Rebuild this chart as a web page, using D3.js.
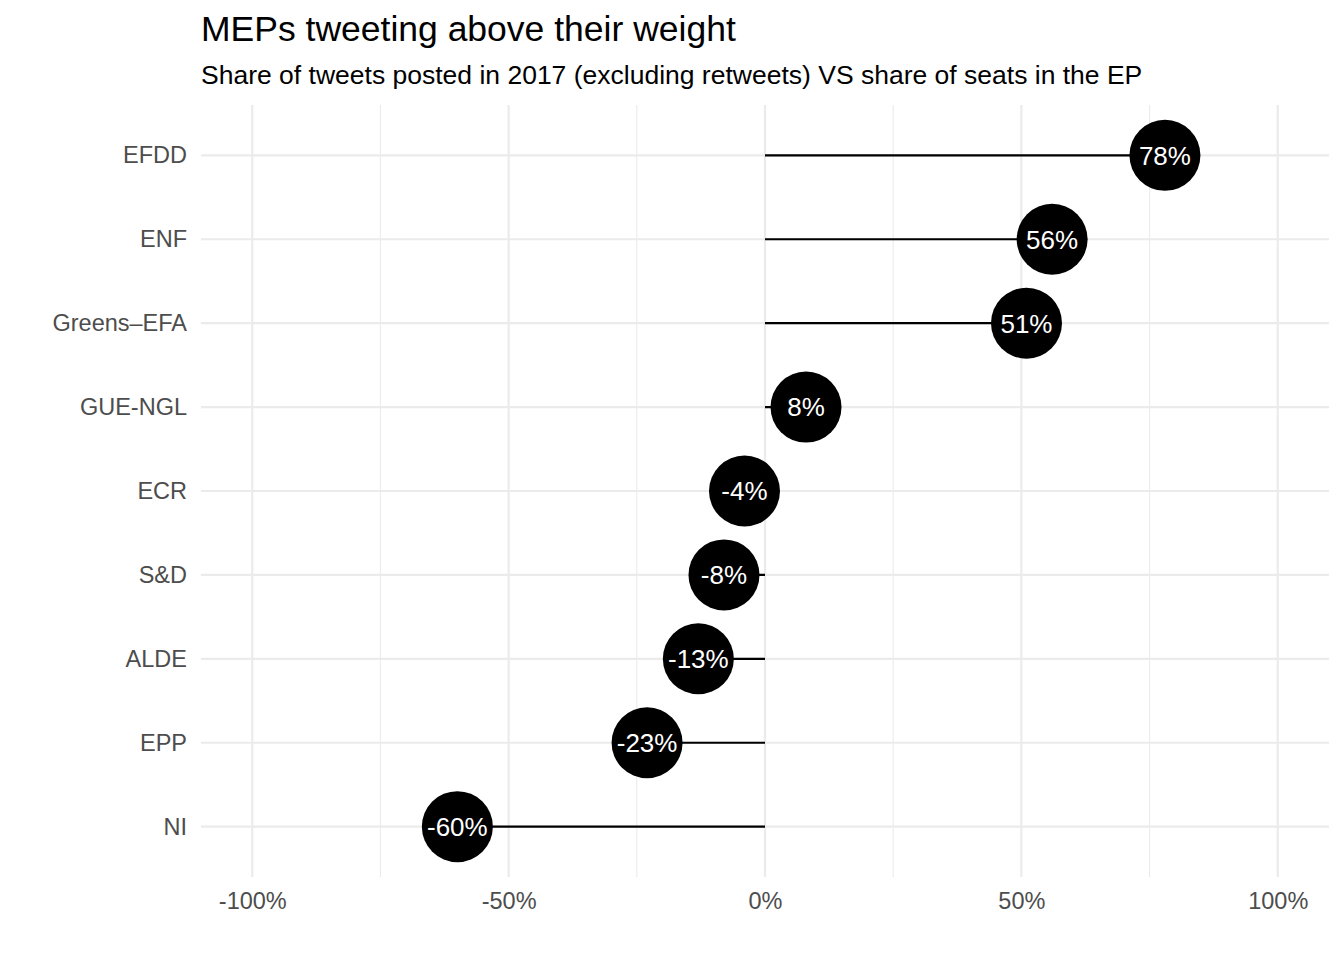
<!DOCTYPE html>
<html>
<head>
<meta charset="utf-8">
<script src="https://cdn.jsdelivr.net/npm/d3@7"></script>
<style>
body{margin:0;background:#fff;}
svg text{font-family:"Liberation Sans",Arial,sans-serif;}
</style>
</head>
<body>
<svg id="chart" width="1344" height="960"></svg>
<script>
const groups = ["EFDD","ENF","Greens–EFA","GUE-NGL","ECR","S&D","ALDE","EPP","NI"];
const values = [0.78,0.56,0.51,0.08,-0.04,-0.08,-0.13,-0.23,-0.60];
const majorTicks = [-1,-0.5,0,0.5,1];
const minorTicks = [-0.75,-0.25,0.25,0.75];
const titleText = "MEPs tweeting above their weight";
const subtitleText = "Share of tweets posted in 2017 (excluding retweets) VS share of seats in the EP";

const svg = d3.select("#chart");
const panel = {left:201, right:1329, top:105, bottom:877};

const x = d3.scaleLinear().domain([-1.1,1.1]).range([panel.left,panel.right]);
const y = d3.scalePoint().domain(groups).range([panel.top,panel.bottom]).padding(0.6);

const fmt = v => Math.round(v*100) + "%";

// minor grid
svg.append("g").selectAll("line").data(minorTicks).join("line")
  .attr("x1",d=>x(d)).attr("x2",d=>x(d)).attr("y1",panel.top).attr("y2",panel.bottom)
  .attr("stroke","#ebebeb").attr("stroke-width",1.1);
// major grid vertical
svg.append("g").selectAll("line").data(majorTicks).join("line")
  .attr("x1",d=>x(d)).attr("x2",d=>x(d)).attr("y1",panel.top).attr("y2",panel.bottom)
  .attr("stroke","#ebebeb").attr("stroke-width",2.2);
// major grid horizontal
svg.append("g").selectAll("line").data(groups).join("line")
  .attr("x1",panel.left).attr("x2",panel.right).attr("y1",d=>y(d)).attr("y2",d=>y(d))
  .attr("stroke","#ebebeb").attr("stroke-width",2.2);

// x axis
const xAxis = d3.axisBottom(x).tickValues(majorTicks).tickFormat(fmt).tickSize(0).tickPadding(0);
const gx = svg.append("g").attr("transform",`translate(0,892)`).call(xAxis);
gx.select(".domain").remove();
gx.selectAll("text").attr("font-size",23.5).attr("fill","#4d4d4d").attr("font-family","Liberation Sans, Arial, sans-serif");

// y axis
const yAxis = d3.axisLeft(y).tickSize(0).tickPadding(0);
const gy = svg.append("g").attr("transform",`translate(${panel.left-14},0)`).call(yAxis);
gy.select(".domain").remove();
gy.selectAll("text").attr("font-size",23.5).attr("fill","#4d4d4d").attr("font-family","Liberation Sans, Arial, sans-serif");

const data = groups.map((g,i)=>({g, v:values[i]}));

// segments
svg.append("g").selectAll("line").data(data).join("line")
  .attr("x1",x(0)).attr("x2",d=>x(d.v)).attr("y1",d=>y(d.g)).attr("y2",d=>y(d.g))
  .attr("stroke","#000").attr("stroke-width",2.2);

// points
svg.append("g").selectAll("circle").data(data).join("circle")
  .attr("cx",d=>x(d.v)).attr("cy",d=>y(d.g)).attr("r",35.5).attr("fill","#000");

// labels
svg.append("g").selectAll("text").data(data).join("text")
  .attr("x",d=>x(d.v)).attr("y",d=>y(d.g)).attr("dy","0.36em")
  .attr("text-anchor","middle").attr("fill","#fff").attr("font-size",26)
  .text(d=>fmt(d.v));

// title & subtitle
svg.append("text").attr("x",201).attr("y",41).attr("font-size",35.5).attr("fill","#000").text(titleText);
svg.append("text").attr("x",201).attr("y",84).attr("font-size",26.5).attr("fill","#000").text(subtitleText);
</script>
</body>
</html>
